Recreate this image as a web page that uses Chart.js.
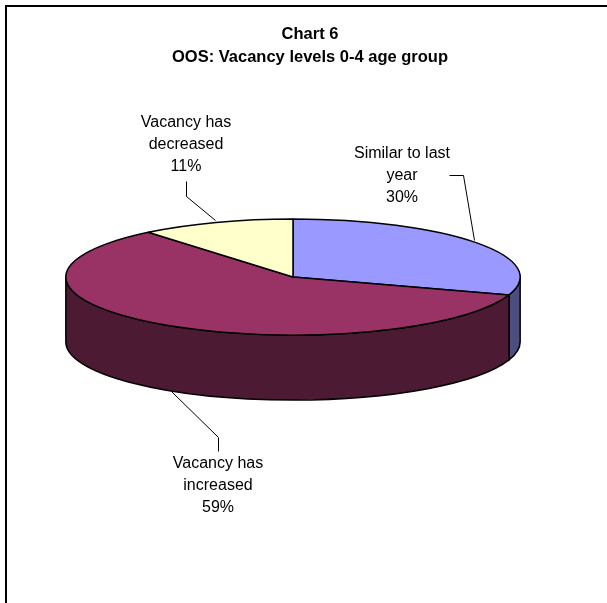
<!DOCTYPE html>
<html>
<head>
<meta charset="utf-8">
<script src="https://cdn.jsdelivr.net/npm/chart.js@4/dist/chart.umd.min.js"></script>
<style>
  html, body { margin: 0; padding: 0; background: #fff; }
  #wrap { position: relative; width: 607px; height: 603px; }
</style>
</head>
<body>
<div id="wrap"><canvas id="c" width="607" height="603"></canvas></div>
<script>
const titleLines = ['Chart 6', 'OOS: Vacancy levels 0-4 age group'];
const categories = ['Similar to last year', 'Vacancy has increased', 'Vacancy has decreased'];
const values = [30, 59, 11];
const topColors = ['#9999FF', '#993366', '#FFFFCC'];
const wallColors = ['#4D4D80', '#4D1A33', '#808066'];

// etiquetas: linhas de texto e linha de chamada de cada fatia
const labelLines = [['Similar to last', 'year', '30%'], ['Vacancy has', 'increased', '59%'], ['Vacancy has', 'decreased', '11%']];
const labelAt = [[402, 154], [218, 464], [186, 123]];
const leaders = [
  [[449, 175], [463, 175], [474, 240]],
  [[218, 451], [218, 437], [171, 391]],
  [[186, 181], [186, 196], [215, 220]]
];

// pizza "3D": elipse no topo + parede frontal
const CX = 293, CY = 277, RY = 58, DEPTH = 65;

const pie3d = {
  id: 'pie3d',
  beforeDatasetDraw(chart, args) {
    const ctx = chart.ctx;
    const arcs = chart.getDatasetMeta(args.index).data;
    const a0 = arcs[0];
    const rx = a0.outerRadius;

    // parede: só a metade da frente (0..PI no canvas) aparece
    ctx.save();
    ctx.strokeStyle = '#000';
    ctx.lineWidth = 1.5;
    arcs.forEach((arc, i) => {
      const s = Math.max(arc.startAngle, 0);
      const e = Math.min(arc.endAngle, Math.PI);
      if (e <= s) return;
      ctx.beginPath();
      ctx.ellipse(CX, CY, rx, RY, 0, s, e);
      ctx.ellipse(CX, CY + DEPTH, rx, RY, 0, e, s, true);
      ctx.closePath();
      ctx.fillStyle = wallColors[i];
      ctx.fill();
      ctx.stroke();
    });
    ctx.restore();

    // achata o círculo; o stroke volta à identidade p/ manter a espessura
    ctx.save();
    ctx.translate(CX, CY);
    ctx.scale(1, RY / rx);
    ctx.translate(-a0.x, -a0.y);
    const dpr = chart.currentDevicePixelRatio;
    ctx.stroke = function () {
      const m = ctx.getTransform();
      ctx.setTransform(dpr, 0, 0, dpr, 0, 0);
      CanvasRenderingContext2D.prototype.stroke.call(ctx);
      ctx.setTransform(m);
    };
  },
  afterDatasetDraw(chart) {
    delete chart.ctx.stroke;
    chart.ctx.restore();
  },
  afterDraw(chart) {
    const ctx = chart.ctx;
    ctx.save();
    // moldura: só esquerda e topo aparecem no recorte
    ctx.strokeStyle = '#000';
    ctx.lineWidth = 2;
    ctx.beginPath();
    ctx.moveTo(6, 603);
    ctx.lineTo(6, 6);
    ctx.lineTo(607, 6);
    ctx.stroke();
    // linhas de chamada
    ctx.translate(0.5, 0.5);
    ctx.lineWidth = 1;
    leaders.forEach(pts => {
      ctx.beginPath();
      pts.forEach((p, i) => i ? ctx.lineTo(p[0], p[1]) : ctx.moveTo(p[0], p[1]));
      ctx.stroke();
    });
    ctx.translate(-0.5, -0.5);
    // rótulos
    ctx.fillStyle = '#000';
    ctx.font = '16px "Liberation Sans", Arial, sans-serif';
    ctx.textAlign = 'center';
    ctx.textBaseline = 'middle';
    labelLines.forEach((lines, i) => {
      lines.forEach((t, j) => ctx.fillText(t, labelAt[i][0], labelAt[i][1] + j * 22));
    });
    ctx.restore();
  }
};

new Chart(document.getElementById('c'), {
  type: 'pie',
  data: {
    labels: categories,
    datasets: [{
      data: values,
      backgroundColor: topColors,
      borderColor: '#000',
      borderWidth: 1.5,
      hoverOffset: 0
    }]
  },
  options: {
    responsive: false,
    animation: false,
    layout: { padding: { left: 13, right: 0, top: 0, bottom: 68 } },
    plugins: {
      legend: { display: false },
      tooltip: { enabled: false },
      title: {
        display: true,
        text: titleLines,
        color: '#000',
        font: { family: '"Liberation Sans", Arial, sans-serif', size: 16.5, weight: 'bold', lineHeight: 1.4 },
        padding: { top: 23, bottom: 10 }
      }
    }
  },
  plugins: [pie3d]
});
</script>
</body>
</html>
